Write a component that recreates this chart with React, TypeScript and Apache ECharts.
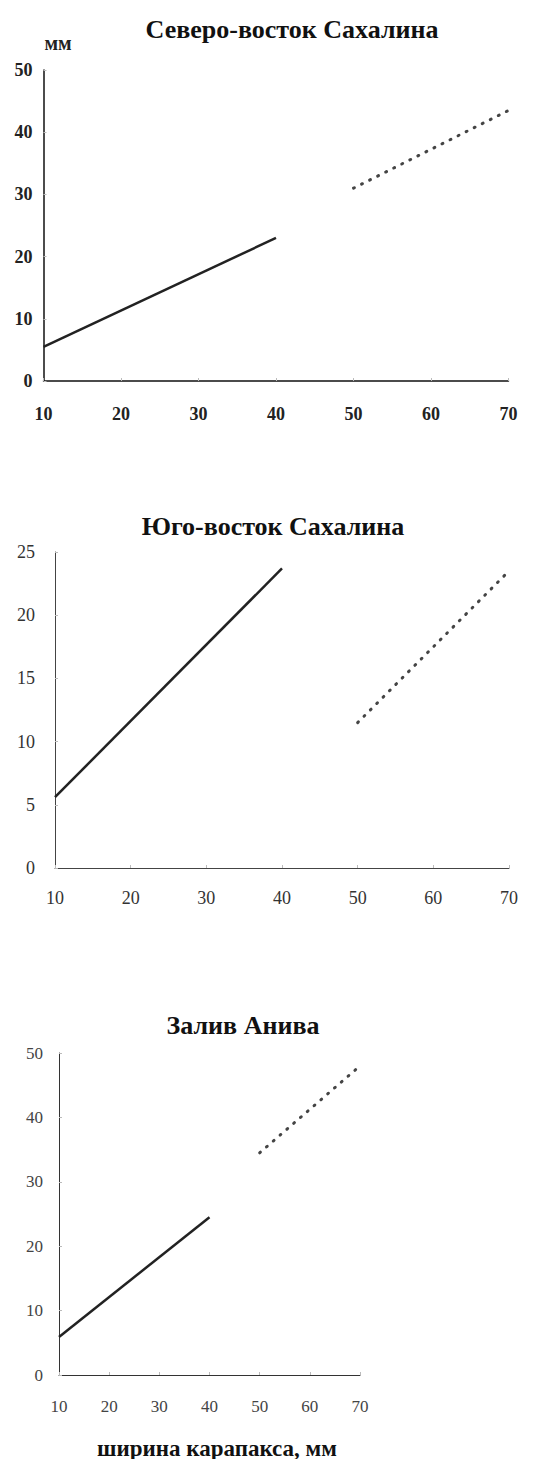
import React, { useEffect, useRef } from "react";
import * as echarts from "echarts";

const titles = ["Северо-восток Сахалина", "Юго-восток Сахалина", "Залив Анива"];
const xTicks = [10, 20, 30, 40, 50, 60, 70];
const yMax = [50, 25, 50];
const yStep = [10, 5, 10];

const neSolid = [[10, 5.5], [40, 23.0]];
const neDotted = [[50, 31.0], [70, 43.5]];
const seSolid = [[10, 5.6], [40, 23.7]];
const seDotted = [[50, 11.5], [70, 23.5]];
const anSolid = [[10, 5.9], [40, 24.5]];
const anDotted = [[50, 34.5], [70, 48.0]];

const yUnit = "мм";
const xName = "ширина карапакса, мм";

const FONT = "'Liberation Serif', 'DejaVu Serif', serif";

export default function App() {
  const ref = useRef<HTMLDivElement>(null);
  useEffect(() => {
    if (!ref.current) return;
    const chart = echarts.init(ref.current, undefined, { renderer: "svg" });
    const grids = [
      { left: 43.5, top: 70, width: 465, height: 311 },
      { left: 55, top: 552, width: 454, height: 316 },
      { left: 59, top: 1053, width: 301, height: 322 },
    ];
    const labelStyles = [
      { fontWeight: "bold", color: "#222", fontSize: 18 },
      { fontWeight: "normal", color: "#333", fontSize: 18 },
      { fontWeight: "normal", color: "#444", fontSize: 17 },
    ];
    const xMargins = [24, 21, 23];
    const yMargins = [11, 20, 16];
    const axisColors = ["#111", "#444", "#333"];
    const solids = [neSolid, seSolid, anSolid];
    const dotteds = [neDotted, seDotted, anDotted];
    const titlePos = [
      { x: 287, y: 11 },
      { x: 268, y: 508 },
      { x: 238, y: 1007 },
    ];

    const option: any = {
      animation: false,
      backgroundColor: "#fff",
      title: titles.map((t, i) => ({
        text: t,
        left: titlePos[i].x,
        top: titlePos[i].y,
        textAlign: "center",
        textStyle: { fontFamily: FONT, fontWeight: "bold", fontSize: 26, color: "#111" },
      })),
      grid: grids.map((g) => ({ ...g, containLabel: false })),
      xAxis: grids.map((_, i) => ({
        type: "value",
        gridIndex: i,
        min: 10,
        max: 70,
        interval: 10,
        axisLine: { show: true, lineStyle: { color: axisColors[i], width: i === 0 ? 1.5 : 1 } },
        axisTick: { show: true, inside: true, length: 3, lineStyle: { color: "#bbb" } },
        splitLine: { show: false },
        axisLabel: {
          ...labelStyles[i],
          fontFamily: FONT,
          margin: xMargins[i],
          formatter: (v: number) => (xTicks.includes(v) ? String(v) : ""),
        },
      })),
      yAxis: grids.map((_, i) => ({
        type: "value",
        gridIndex: i,
        min: 0,
        max: yMax[i],
        interval: yStep[i],
        axisLine: { show: true, onZero: false, lineStyle: { color: axisColors[i], width: i === 0 ? 1.5 : 1 } },
        axisTick: { show: true, inside: true, length: 3, lineStyle: { color: "#bbb" } },
        splitLine: { show: false },
        axisLabel: { ...labelStyles[i], fontFamily: FONT, margin: yMargins[i] },
      })),
      series: [
        ...solids.map((d, i) => ({
          type: "line",
          xAxisIndex: i,
          yAxisIndex: i,
          data: d,
          symbol: "none",
          lineStyle: { color: "#222", width: 2.5 },
        })),
        ...dotteds.map((d, i) => ({
          type: "line",
          xAxisIndex: i,
          yAxisIndex: i,
          data: d,
          symbol: "none",
          lineStyle: { color: "#444", width: 3, type: [1, 8], cap: "round" },
        })),
      ],
      graphic: [
        {
          type: "text",
          x: 58,
          y: 43,
          style: {
            text: yUnit,
            fontFamily: FONT,
            fontWeight: "bold",
            fontSize: 20,
            fill: "#222",
            align: "center",
            verticalAlign: "middle",
          },
        },
        {
          type: "text",
          x: 217,
          y: 1448,
          style: {
            text: xName,
            fontFamily: FONT,
            fontWeight: "bold",
            fontSize: 23,
            fill: "#111",
            align: "center",
            verticalAlign: "middle",
          },
        },
      ],
    };
    chart.setOption(option);
    return () => chart.dispose();
  }, []);
  return (
    <div
      ref={ref}
      style={{ position: "absolute", left: 0, top: 0, width: 545, height: 1459, background: "#fff" }}
    />
  );
}
